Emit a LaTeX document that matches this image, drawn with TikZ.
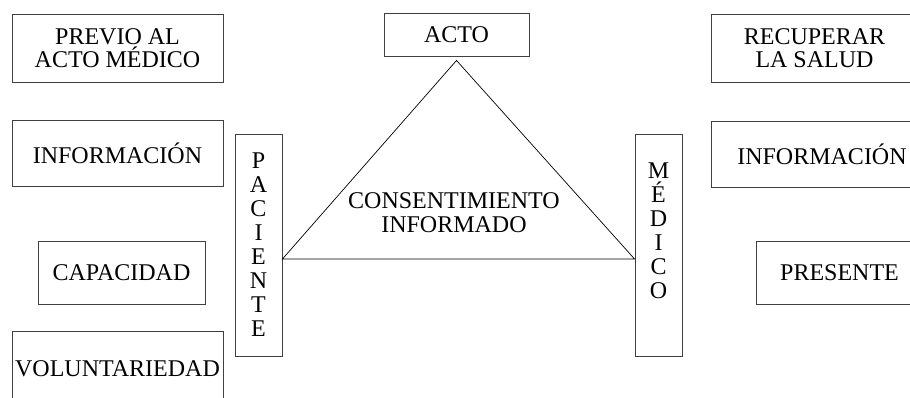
\documentclass[tikz,border=0pt]{standalone}
\usepackage{fontspec}
\setmainfont{Liberation Serif}
\usepackage{tikz}

\begin{document}
\begin{tikzpicture}[x=1pt, y=-1pt,
  caja/.style={draw=black!75, line width=0.9pt, align=center, inner sep=0pt,
    font=\fontsize{24}{23}\selectfont},
  vertical/.style={caja, minimum width=47pt, minimum height=222pt,
    font=\fontsize{24}{24}\selectfont}]
  \useasboundingbox (0,0) rectangle (910,397);
  \clip (0,0) rectangle (910,397);
  % izquierda
  \node[caja, minimum width=211pt, minimum height=68pt] (previo) at (117.5,48) {PREVIO AL\\ACTO MÉDICO};
  \node[caja, minimum width=211pt, minimum height=66pt] (infoI) at (117.5,153) {INFORMACIÓN};
  \node[caja, minimum width=167pt, minimum height=63pt] (capacidad) at (121.5,272.5) {CAPACIDAD};
  \node[caja, minimum width=211pt, minimum height=76pt] (volunt) at (117.5,369) {VOLUNTARIEDAD};
  % centro
  \node[vertical] (paciente) at (258.5,245) {P\\A\\C\\I\\E\\N\\T\\E};
  \node[vertical, text depth=28pt] (medico) at (658.5,245) {M\\É\\D\\I\\C\\O};
  \node[caja, minimum width=145pt, minimum height=43pt] (acto) at (456.5,34.5) {ACTO};
  \coordinate (cima) at ([yshift=-4pt]acto.south);
  \coordinate (baseI) at ([yshift=-14pt]paciente.east);
  \coordinate (baseD) at ([yshift=-14pt]medico.west);
  \draw[line width=0.7pt] (cima) -- (baseI) -- (baseD) -- cycle;
  \node[align=center, font=\fontsize{24}{24}\selectfont] (consent) at (454,213) {CONSENTIMIENTO\\INFORMADO};
  % derecha
  \node[caja, minimum width=207pt, minimum height=68pt] (recuperar) at (814.5,48) {RECUPERAR\\LA SALUD};
  \node[caja, minimum width=222pt, minimum height=66pt] (infoD) at (822,154) {INFORMACIÓN};
  \node[caja, minimum width=167pt, minimum height=63pt] (presente) at (839.5,272.5) {PRESENTE};
\end{tikzpicture}
\end{document}
